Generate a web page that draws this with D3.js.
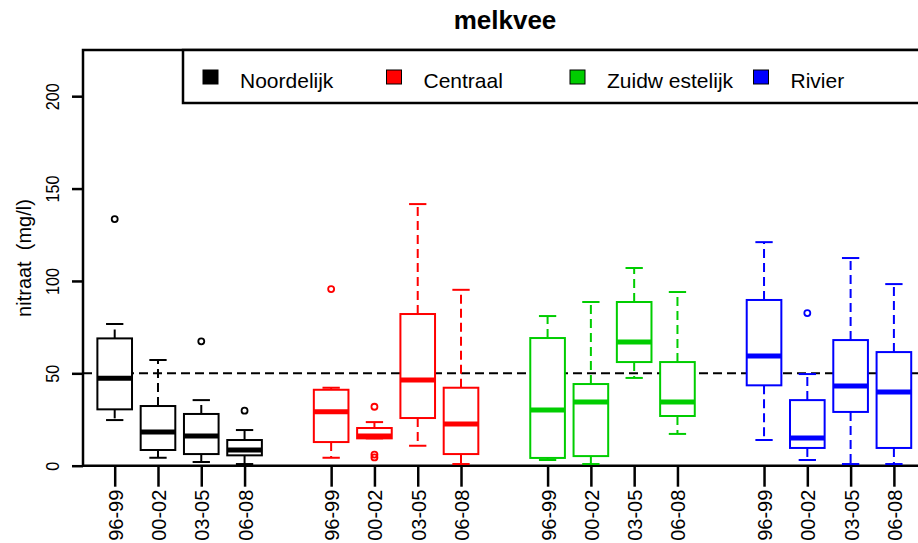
<!DOCTYPE html>
<html lang="nl">
<head>
  <meta charset="UTF-8">
  <title>melkvee</title>
  <script src="https://d3js.org/d3.v7.min.js"></script>
  <style>
    body { margin: 0; background: #fff; }
    text { font-family: "Liberation Sans", Arial, sans-serif; fill: #000; }
  </style>
</head>
<body>
  <svg width="918" height="543"></svg>

  <script>
    // data (nitraat, mg/l)
    const regions = ["Noordelijk", "Centraal", "Zuidw estelijk", "Rivier"];
    const periods = ["96-99", "00-02", "03-05", "06-08"];
    const yTicks = [0, 50, 100, 150, 200];
    const norm = 50;

    const whiskerLow = [[24.7, 4.3, 2.0, 0.9], [4.3, 14.8, 10.8, 0.9], [3.1, 0.9, 47.5, 17.2], [13.9, 3.1, 0.9, 0.9]];
    const q1 = [[30.5, 8.5, 6.3, 5.6], [12.8, 14.8, 25.8, 6.3], [4.2, 5.2, 56.1, 26.9], [43.5, 9.6, 29.1, 9.6]];
    const median = [[47.3, 18.2, 16.1, 8.5], [29.2, 16.1, 46.4, 22.6], [30.1, 34.5, 67.0, 34.5], [59.4, 15.0, 43.1, 39.9]];
    const q3 = [[68.9, 32.3, 28.0, 13.9], [41.1, 20.4, 82.1, 42.2], [69.1, 44.2, 88.6, 56.1], [89.7, 35.5, 68.0, 61.5]];
    const whiskerHigh = [[76.7, 57.2, 35.5, 19.3], [42.2, 23.6, 141.6, 95.2], [81.0, 88.6, 107.0, 94.0], [121.0, 49.6, 112.4, 98.3]];
    const outliers = [[[133.5], [], [67.3], [29.8]], [[95.6], [31.9, 4.5, 6.0], [], []], [[], [], [], []], [[], [82.6], [], []]];

    const colors = ["#000000", "#ff0000", "#00cd00", "#0000ff"];

    const boxes = [];
    regions.forEach((r, i) => {
      periods.forEach((p, j) => {
        boxes.push({
          region: i, period: p, pos: i * 5 + j + 1,
          lo: whiskerLow[i][j], q1: q1[i][j], med: median[i][j], q3: q3[i][j], hi: whiskerHigh[i][j],
          out: outliers[i][j]
        });
      });
    });

    const svg = d3.select("svg");
    const plotLeft = 83, plotTop = 50, plotBottom = 465.7, plotRight = 930;

    const x = d3.scaleLinear().domain([1, 19]).range([114.7, 893.9]);
    const y = d3.scaleLinear().domain([0, 225]).range([plotBottom, plotTop]);
    const unit = x(2) - x(1);
    const boxHalf = 0.4 * unit, capHalf = 0.2 * unit;

    // title
    svg.append("text")
      .attr("x", 505).attr("y", 29)
      .attr("text-anchor", "middle")
      .style("font-size", "26px").style("font-weight", "bold")
      .text("melkvee");

    // y axis
    const gy = svg.append("g")
      .attr("transform", `translate(${plotLeft},0)`)
      .call(d3.axisLeft(y).tickValues(yTicks).tickSize(11).tickSizeOuter(0));
    gy.select(".domain").remove();
    gy.selectAll(".tick line").attr("stroke", "#000").attr("stroke-width", 2.5);
    gy.selectAll(".tick text")
      .attr("x", 0).attr("dy", 0)
      .attr("transform", "translate(-24,0) rotate(-90) scale(0.85,1)")
      .attr("text-anchor", "middle")
      .style("font-size", "19px");

    svg.append("text")
      .attr("transform", "translate(31,258) rotate(-90)")
      .attr("text-anchor", "middle")
      .style("font-size", "20px")
      .style("white-space", "pre")
      .text("nitraat  (mg/l)");

    // x axis
    const gx = svg.append("g")
      .attr("transform", `translate(0,${plotBottom})`)
      .call(d3.axisBottom(x)
        .tickValues(boxes.map(d => d.pos))
        .tickFormat((d, i) => boxes[i].period)
        .tickSize(21).tickSizeOuter(0));
    gx.select(".domain").remove();
    gx.selectAll(".tick line").attr("stroke", "#000").attr("stroke-width", 2.5);
    gx.selectAll(".tick text")
      .attr("y", 0).attr("dy", 0)
      .attr("transform", "translate(7.5,24) rotate(-90)")
      .attr("text-anchor", "end")
      .style("font-size", "20px");

    // frame
    svg.append("path")
      .attr("d", `M${plotRight},${plotTop}H${plotLeft}V${plotBottom}H${plotRight}`)
      .attr("fill", "none").attr("stroke", "#000").attr("stroke-width", 2.5);

    // reference line at 50
    svg.append("line")
      .attr("x1", plotLeft).attr("x2", plotRight)
      .attr("y1", y(norm)).attr("y2", y(norm))
      .attr("stroke", "#000").attr("stroke-width", 2)
      .attr("stroke-dasharray", "9,5");

    // legend
    svg.append("rect")
      .attr("x", 183).attr("y", plotTop).attr("width", 800).attr("height", 53)
      .attr("fill", "#fff").attr("stroke", "#000").attr("stroke-width", 2.5);
    const leg = svg.selectAll(".leg").data(regions).enter().append("g")
      .attr("class", "leg")
      .attr("transform", (d, i) => `translate(${203 + i * 183.5},0)`);
    leg.append("rect")
      .attr("x", 0).attr("y", 70).attr("width", 15).attr("height", 14)
      .attr("fill", (d, i) => colors[i]).attr("stroke", "#000").attr("stroke-width", 1);
    leg.append("text")
      .attr("x", 37).attr("y", 88)
      .style("font-size", "21px")
      .text(d => d);

    // boxes
    const g = svg.selectAll(".box").data(boxes).enter().append("g")
      .attr("class", "box")
      .attr("stroke", d => colors[d.region])
      .attr("fill", "none");

    g.append("line")
      .attr("x1", d => x(d.pos)).attr("x2", d => x(d.pos))
      .attr("y1", d => y(d.q3)).attr("y2", d => y(d.hi))
      .attr("stroke-width", 2).attr("stroke-dasharray", "9,5");
    g.append("line")
      .attr("x1", d => x(d.pos)).attr("x2", d => x(d.pos))
      .attr("y1", d => y(d.q1)).attr("y2", d => y(d.lo))
      .attr("stroke-width", 2).attr("stroke-dasharray", "9,5");
    g.append("line")
      .attr("x1", d => x(d.pos) - capHalf).attr("x2", d => x(d.pos) + capHalf)
      .attr("y1", d => y(d.hi)).attr("y2", d => y(d.hi))
      .attr("stroke-width", 2);
    g.append("line")
      .attr("x1", d => x(d.pos) - capHalf).attr("x2", d => x(d.pos) + capHalf)
      .attr("y1", d => y(d.lo)).attr("y2", d => y(d.lo))
      .attr("stroke-width", 2);
    g.append("rect")
      .attr("x", d => x(d.pos) - boxHalf).attr("width", 2 * boxHalf)
      .attr("y", d => y(d.q3)).attr("height", d => y(d.q1) - y(d.q3))
      .attr("fill", "#fff").attr("stroke-width", 2);
    g.append("line")
      .attr("x1", d => x(d.pos) - boxHalf).attr("x2", d => x(d.pos) + boxHalf)
      .attr("y1", d => y(d.med)).attr("y2", d => y(d.med))
      .attr("stroke-width", 5);
    g.selectAll("circle")
      .data(d => d.out.map(v => ({pos: d.pos, v: v})))
      .enter().append("circle")
      .attr("cx", d => x(d.pos)).attr("cy", d => y(d.v))
      .attr("r", 3).attr("stroke-width", 1.8).attr("fill", "none");
  </script>
</body>
</html>
